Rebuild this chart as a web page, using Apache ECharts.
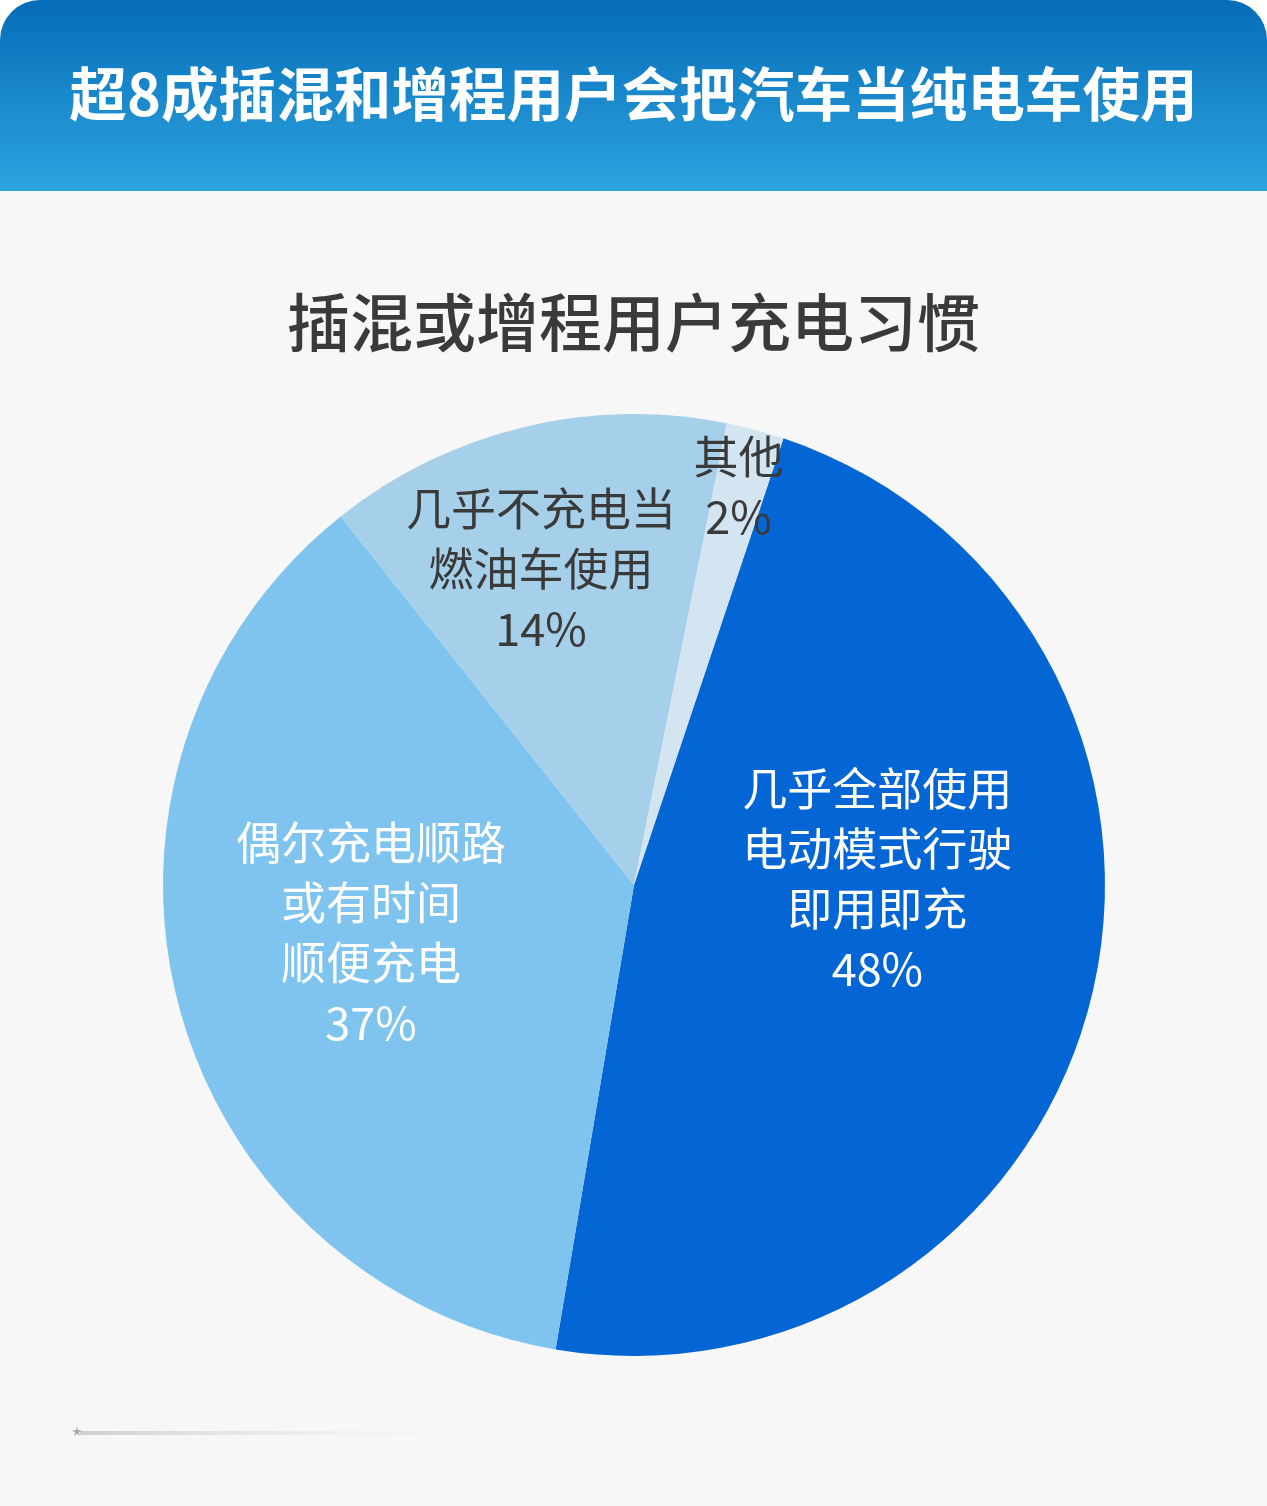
<!DOCTYPE html>
<html><head><meta charset="utf-8">
<script src="https://cdn.jsdelivr.net/npm/echarts@6/dist/echarts.min.js"></script>
<style>html,body{margin:0;padding:0;background:#fff;}#c{width:1267px;height:1506px;}</style>
</head><body><div id="c"></div>
<script>
const headerTitle = '超8成插混和增程用户会把汽车当纯电车使用';
const chartTitle = '插混或增程用户充电习惯';
const categories = ['几乎全部使用\n电动模式行驶\n即用即充', '偶尔充电顺路\n或有时间\n顺便充电', '几乎不充电当\n燃油车使用', '其他'];
const values = [48, 37, 14, 2];

const colors = ['#0466d4', '#7fc4ee', '#a6d0ea', '#d3e5f0'];
const labelColors = ['#ffffff', '#ffffff', '#3a3a3a', '#3a3a3a'];
const labelOffsets = [[12, -64], [-32, -12], [-37, -84], [43, -168]];

const chart = echarts.init(document.getElementById('c'));
const FONT = '"Noto Sans CJK SC", "Noto Sans", sans-serif';
chart.setOption({
  backgroundColor: '#ffffff',
  animation: false,
  graphic: [
    { type: 'rect', z: -10, shape: { x: 0, y: 0, width: 1267, height: 1506, r: [40, 40, 0, 0] }, style: { fill: '#f7f7f7' } },
    { type: 'rect', z: -5, shape: { x: 0, y: 0, width: 1267, height: 191, r: [40, 40, 0, 0] },
      style: { fill: new echarts.graphic.LinearGradient(0, 0, 0, 1, [{ offset: 0, color: '#056cb8' }, { offset: 1, color: '#2ea4df' }]) } },
    { type: 'text', z: 10, left: 'center', top: 65, style: { text: headerTitle, fill: '#ffffff', font: 'bold 57.6px ' + FONT } },
    { type: 'text', z: 10, left: 'center', top: 291, style: { text: chartTitle, fill: '#3a3a3a', font: '500 63px ' + FONT } },
    { type: 'rect', z: 5, shape: { x: 80, y: 1431, width: 380, height: 4 },
      style: { fill: new echarts.graphic.LinearGradient(0, 0, 1, 0, [{ offset: 0, color: 'rgba(190,190,190,0.7)' }, { offset: 1, color: 'rgba(240,240,240,0.1)' }]) } },
    { type: 'text', z: 6, left: 72, top: 1426, style: { text: '★', fill: '#aaaaaa', font: '10px ' + FONT } }
  ],
  series: [{
    type: 'pie',
    center: [634, 885],
    radius: [0, 471],
    startAngle: 71.5,
    clockwise: true,
    silent: true,
    itemStyle: { borderWidth: 0 },
    labelLine: { show: false },
    label: {
      show: true,
      position: 'inside',
      fontFamily: FONT,
      fontSize: 45,
      lineHeight: 60,
      align: 'center',
      formatter: p => p.name + '\n' + p.value + '%'
    },
    data: categories.map((n, i) => ({
      name: n, value: values[i],
      itemStyle: { color: colors[i] },
      label: { color: labelColors[i], offset: labelOffsets[i] }
    }))
  }]
});
</script></body></html>
